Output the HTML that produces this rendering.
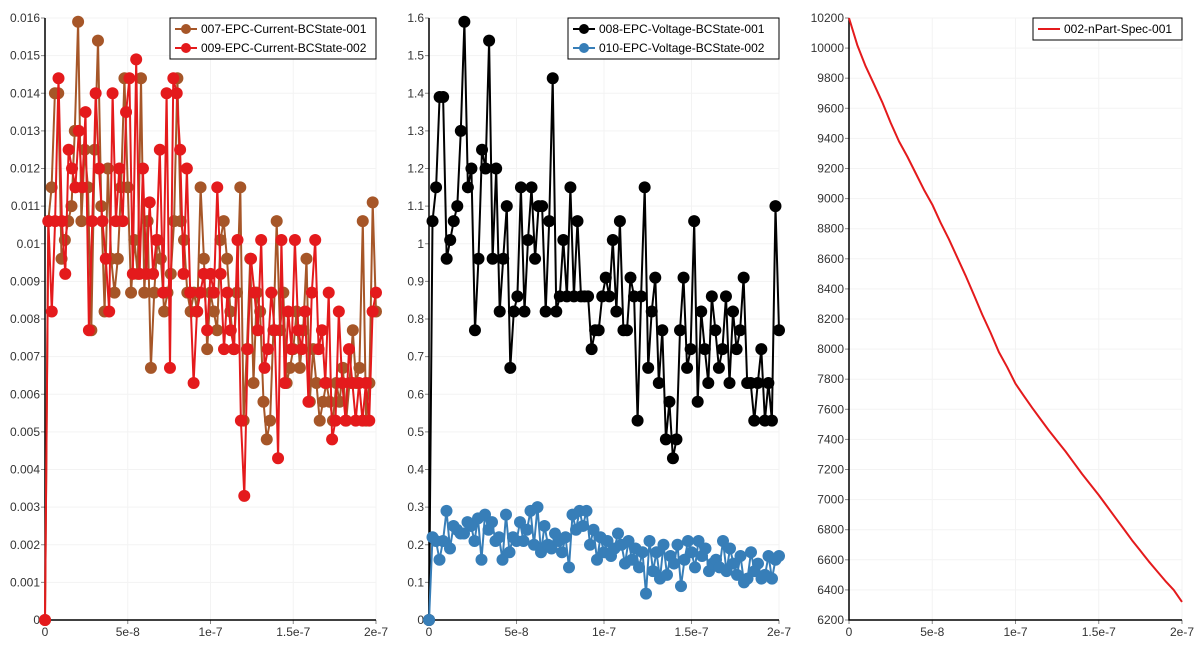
<!DOCTYPE html>
<html><head><meta charset="utf-8"><style>
body{margin:0;background:#fff;}
svg{display:block;font-family:"Liberation Sans",sans-serif;}
</style></head><body>
<svg id="c" width="1202" height="647"></svg>
<script>
const xTicks=[0,5e-8,1e-7,1.5e-7,2e-7];
const xTickLabels=["0","5e-8","1e-7","1.5e-7","2e-7"];
const current007=[0,0.0106,0.0115,0.014,0.014,0.0096,0.0101,0.0106,0.0110,0.0130,0.0159,0.0106,0.0125,0.0115,0.0077,0.0125,0.0154,0.0110,0.0082,0.0120,0.0096,0.0087,0.0096,0.0115,0.0144,0.0115,0.0087,0.0101,0.0092,0.0144,0.0087,0.0106,0.0067,0.0087,0.0101,0.0096,0.0082,0.0087,0.0092,0.0106,0.0144,0.0106,0.0101,0.0087,0.0082,0.0087,0.0082,0.0115,0.0096,0.0072,0.0087,0.0082,0.0077,0.0101,0.0106,0.0096,0.0082,0.0072,0.0087,0.0115,0.0053,0.0072,0.0096,0.0063,0.0087,0.0082,0.0058,0.0048,0.0053,0.0077,0.0106,0.0077,0.0087,0.0063,0.0067,0.0072,0.0082,0.0067,0.0077,0.0096,0.0058,0.0072,0.0063,0.0053,0.0058,0.0063,0.0058,0.0053,0.0063,0.0058,0.0067,0.0053,0.0063,0.0077,0.0063,0.0067,0.0106,0.0053,0.0063,0.0111,0.0082];
const current009=[0,0.0106,0.0082,0.0106,0.0144,0.0106,0.0092,0.0125,0.0120,0.0115,0.0130,0.0115,0.0135,0.0077,0.0106,0.0140,0.0120,0.0106,0.0096,0.0082,0.0140,0.0106,0.0120,0.0106,0.0135,0.0144,0.0092,0.0149,0.0092,0.0120,0.0092,0.0111,0.0092,0.0101,0.0125,0.0087,0.0140,0.0067,0.0144,0.0140,0.0125,0.0092,0.0120,0.0087,0.0063,0.0082,0.0087,0.0092,0.0077,0.0092,0.0087,0.0115,0.0092,0.0072,0.0087,0.0077,0.0072,0.0101,0.0053,0.0033,0.0072,0.0096,0.0087,0.0077,0.0101,0.0067,0.0072,0.0087,0.0077,0.0043,0.0101,0.0063,0.0082,0.0072,0.0101,0.0077,0.0072,0.0082,0.0058,0.0087,0.0101,0.0072,0.0077,0.0063,0.0087,0.0048,0.0053,0.0082,0.0063,0.0053,0.0072,0.0063,0.0053,0.0063,0.0053,0.0063,0.0053,0.0082,0.0087];
const voltage008=[0,1.06,1.15,1.39,1.39,0.96,1.01,1.06,1.10,1.30,1.59,1.15,1.20,0.77,0.96,1.25,1.20,1.54,0.96,1.20,0.82,0.96,1.10,0.67,0.82,0.86,1.15,0.82,1.01,1.15,0.96,1.10,1.10,0.82,1.06,1.44,0.82,0.86,1.01,0.86,1.15,0.86,1.06,0.86,0.86,0.86,0.72,0.77,0.77,0.86,0.91,0.86,1.01,0.82,1.06,0.77,0.77,0.91,0.86,0.53,0.86,1.15,0.67,0.82,0.91,0.63,0.77,0.48,0.58,0.43,0.48,0.77,0.91,0.67,0.72,1.06,0.58,0.82,0.72,0.63,0.86,0.77,0.67,0.72,0.86,0.63,0.82,0.72,0.77,0.91,0.63,0.63,0.53,0.63,0.72,0.53,0.63,0.53,1.10,0.77];
const voltage010=[0,0.22,0.21,0.16,0.21,0.29,0.19,0.25,0.24,0.23,0.23,0.26,0.25,0.21,0.27,0.16,0.28,0.24,0.26,0.21,0.22,0.16,0.28,0.18,0.22,0.21,0.26,0.21,0.24,0.29,0.20,0.30,0.18,0.25,0.20,0.19,0.23,0.21,0.18,0.22,0.14,0.28,0.24,0.29,0.25,0.29,0.20,0.24,0.16,0.22,0.18,0.21,0.17,0.19,0.23,0.20,0.15,0.21,0.16,0.19,0.14,0.18,0.07,0.21,0.13,0.18,0.11,0.20,0.12,0.17,0.15,0.20,0.09,0.16,0.21,0.18,0.14,0.21,0.17,0.19,0.13,0.15,0.16,0.14,0.21,0.13,0.19,0.15,0.12,0.17,0.10,0.11,0.18,0.13,0.15,0.11,0.12,0.17,0.11,0.16,0.17];
const nPartTimes=[0,5e-9,1e-8,1.5e-8,2e-8,2.5e-8,3e-8,3.5e-8,4e-8,4.5e-8,5e-8,5.5e-8,6e-8,6.5e-8,7e-8,7.5e-8,8e-8,8.5e-8,9e-8,9.5e-8,1e-7,1.05e-7,1.1e-7,1.15e-7,1.2e-7,1.25e-7,1.3e-7,1.35e-7,1.4e-7,1.45e-7,1.5e-7,1.55e-7,1.6e-7,1.65e-7,1.7e-7,1.75e-7,1.8e-7,1.85e-7,1.9e-7,1.95e-7,2e-7];
const nPart002=[10200,10020,9880,9760,9640,9505,9380,9280,9170,9060,8960,8840,8730,8610,8490,8360,8230,8110,7980,7880,7770,7690,7610,7535,7460,7390,7320,7245,7170,7100,7030,6955,6880,6805,6730,6660,6590,6525,6460,6400,6320];

const NS="http://www.w3.org/2000/svg";
const svg=document.getElementById('c');
function mk(tag,attrs,parent){const e=document.createElementNS(NS,tag);for(const k in attrs)e.setAttribute(k,attrs[k]);(parent||svg).appendChild(e);return e;}

function panel(cfg){
  const g=mk('g',{});
  
  
  const X=v=>cfg.x0+(v-0)/(2e-7)*(cfg.x1-cfg.x0);
  const Y=v=>cfg.y0-(v-cfg.ymin)/(cfg.ymax-cfg.ymin)*(cfg.y0-cfg.y1);
  cfg.yTicks.forEach((t,i)=>{
    const y=Y(t);
    const gl=mk('line',{x1:cfg.x0,x2:cfg.x1,y1:y,y2:y,stroke:'#f3f3f3','stroke-width':1},g);
    
    
    const tk=mk('line',{x1:cfg.x0-4,x2:cfg.x0,y1:y,y2:y,stroke:'#888','stroke-width':1},g);
    
    
    const tx=mk('text',{x:cfg.x0-5,y:y+4,'text-anchor':'end','font-size':12,fill:'#333'},g);
    tx.textContent=cfg.yLabels[i];
    
    
  });
  xTicks.forEach((t,i)=>{
    const x=X(t);
    const gl=mk('line',{x1:x,x2:x,y1:cfg.y1,y2:cfg.y0,stroke:'#f3f3f3','stroke-width':1},g);
    
    
    const tk=mk('line',{x1:x,x2:x,y1:cfg.y0,y2:cfg.y0+4,stroke:'#888','stroke-width':1},g);
    
    
    const tx=mk('text',{x:x,y:cfg.y0+16,'text-anchor':'middle','font-size':12,fill:'#333'},g);
    tx.textContent=xTickLabels[i];
    
    
  });
  const ax=mk('path',{d:`M${cfg.x0},${cfg.y1}V${cfg.y0}H${cfg.x1}`,stroke:'#000','stroke-width':1.5,fill:'none'},g);
  
  
  cfg.series.forEach(s=>{
    const n=s.vals.length;
    const ts=s.times||s.vals.map((v,i)=>i*2e-7/(n-1));
    const d=s.vals.map((v,i)=>(i?'L':'M')+X(ts[i]).toFixed(1)+','+Y(v).toFixed(1)).join('');
    const p=mk('path',{d:d,stroke:s.color,'stroke-width':2,fill:'none','stroke-linejoin':'round'},g);
    
    
    if(s.markers){
      s.vals.forEach((v,i)=>{
        const c=mk('circle',{cx:X(ts[i]),cy:Y(v),r:6,fill:s.color},g);
        
        
      });
    }
  });
  const L=cfg.legend;
  const lg=mk('g',{},g);
  
  
  mk('rect',{x:L.x,y:L.y,width:L.w,height:cfg.series.length*19+3,fill:'#fff',stroke:'#000','stroke-width':1},lg);
  cfg.series.forEach((s,i)=>{
    const yy=L.y+11+i*19;
    const e=mk('g',{},lg);
    
    
    mk('line',{x1:L.x+5,x2:L.x+27,y1:yy,y2:yy,stroke:s.color,'stroke-width':2},e);
    if(s.markers)mk('circle',{cx:L.x+16,cy:yy,r:5,fill:s.color},e);
    const t=mk('text',{x:L.x+31,y:yy+4,'font-size':12,fill:'#000'},e);
    t.textContent=s.label;
  });
}
function rng(a,b,s){const r=[];for(let v=a;v<=b+s/2;v+=s)r.push(+v.toFixed(6));return r;}
const t1=rng(0,0.016,0.001);
panel({name:'current-panel',x0:45,x1:376,y0:620,y1:18,ymin:0,ymax:0.016,yTicks:t1,yLabels:t1.map(v=>String(+v.toFixed(3))),
  legend:{x:170,y:18,w:206},
  series:[{label:'007-EPC-Current-BCState-001',vals:current007,color:'#a65628',markers:true},
          {label:'009-EPC-Current-BCState-002',vals:current009,color:'#e41a1c',markers:true}]});
const t2=rng(0,1.6,0.1);
panel({name:'voltage-panel',x0:429,x1:779,y0:620,y1:18,ymin:0,ymax:1.6,yTicks:t2,yLabels:t2.map(v=>String(+v.toFixed(1))),
  legend:{x:568,y:18,w:211},
  series:[{label:'008-EPC-Voltage-BCState-001',vals:voltage008,color:'#000000',markers:true},
          {label:'010-EPC-Voltage-BCState-002',vals:voltage010,color:'#377eb8',markers:true}]});
const t3=rng(6200,10200,200);
panel({name:'npart-panel',x0:849,x1:1182,y0:620,y1:18,ymin:6200,ymax:10200,yTicks:t3,yLabels:t3.map(v=>String(Math.round(v))),
  legend:{x:1033,y:18,w:149},
  series:[{label:'002-nPart-Spec-001',vals:nPart002,times:nPartTimes,color:'#e41a1c',markers:false}]});
</script>
</body></html>
